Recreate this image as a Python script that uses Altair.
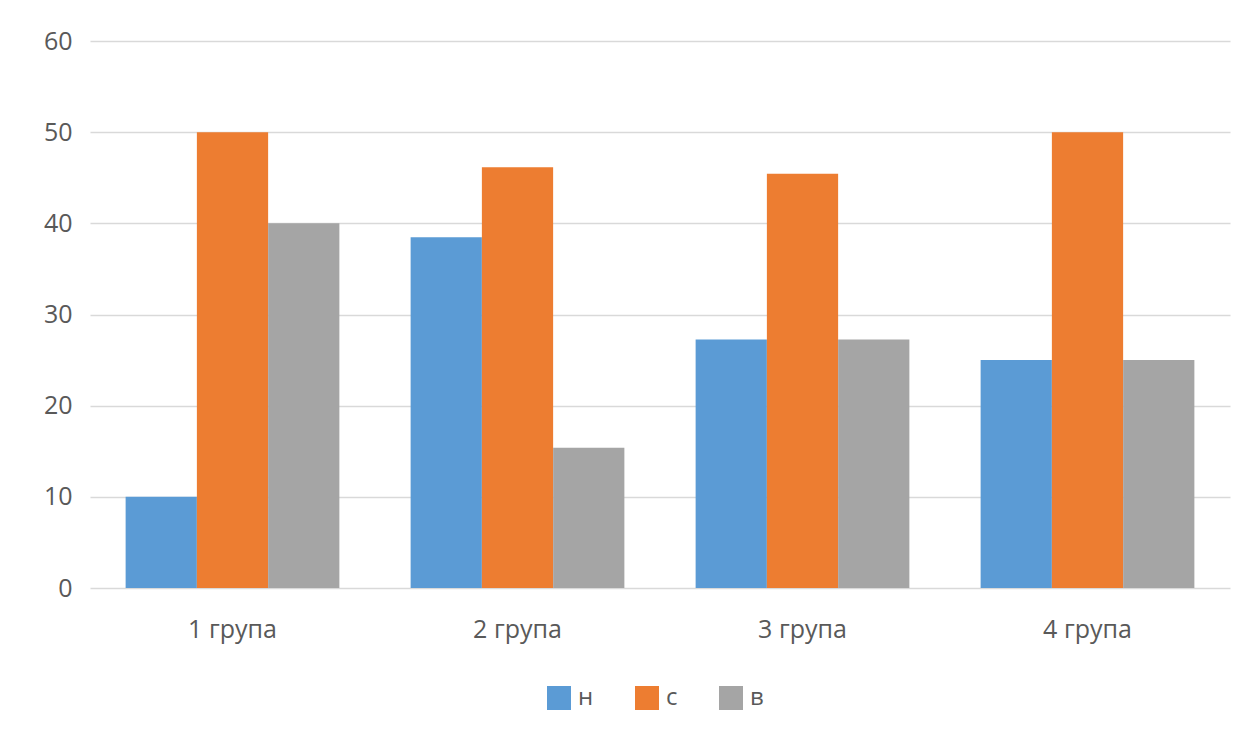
import altair as alt
import pandas as pd

groups = ["1 група", "2 група", "3 група", "4 група"]
series = ["н", "с", "в"]
values_n = [10, 38.46, 27.27, 25]
values_s = [50, 46.15, 45.45, 50]
values_v = [40, 15.38, 27.27, 25]
colors = ["#5B9BD5", "#ED7D31", "#A5A5A5"]

rows = []
for g, a, b, c in zip(groups, values_n, values_s, values_v):
    rows.append({"group": g, "series": "н", "value": a})
    rows.append({"group": g, "series": "с", "value": b})
    rows.append({"group": g, "series": "в", "value": c})
df = pd.DataFrame(rows)

font = "Open Sans"

chart = alt.Chart(df).mark_bar().encode(
    x=alt.X("group:N", sort=groups, title=None,
            scale=alt.Scale(paddingInner=0.25, paddingOuter=0.125),
            axis=alt.Axis(labelAngle=0, domain=False, ticks=False, labelPadding=29,
                          labelFontSize=25, labelColor="#595959", labelFont=font)),
    xOffset=alt.XOffset("series:N", sort=series, scale=alt.Scale(paddingInner=0, paddingOuter=0)),
    y=alt.Y("value:Q", title=None,
            scale=alt.Scale(domain=[0, 60], nice=False),
            axis=alt.Axis(values=[0, 10, 20, 30, 40, 50, 60], domain=False, ticks=False,
                          labelPadding=18, labelFontSize=25, labelColor="#595959",
                          labelFont=font, gridColor="#d9d9d9", gridWidth=1.5)),
    color=alt.Color("series:N", sort=series,
                    scale=alt.Scale(domain=series, range=colors),
                    legend=alt.Legend(title=None, orient="none", direction="horizontal",
                                      legendX=457, legendY=645,
                                      symbolType="square", symbolSize=576, symbolStrokeWidth=0,
                                      labelFontSize=24, labelColor="#595959", labelFont=font,
                                      labelOffset=7, columnPadding=41, symbolOpacity=1)),
).properties(
    width=1140, height=547,
    padding={"left": 35, "top": 21, "right": 12, "bottom": 10},
    background="white",
).configure_view(stroke=None)

chart.save("out.html", embed_options={"renderer": "svg", "actions": False})
